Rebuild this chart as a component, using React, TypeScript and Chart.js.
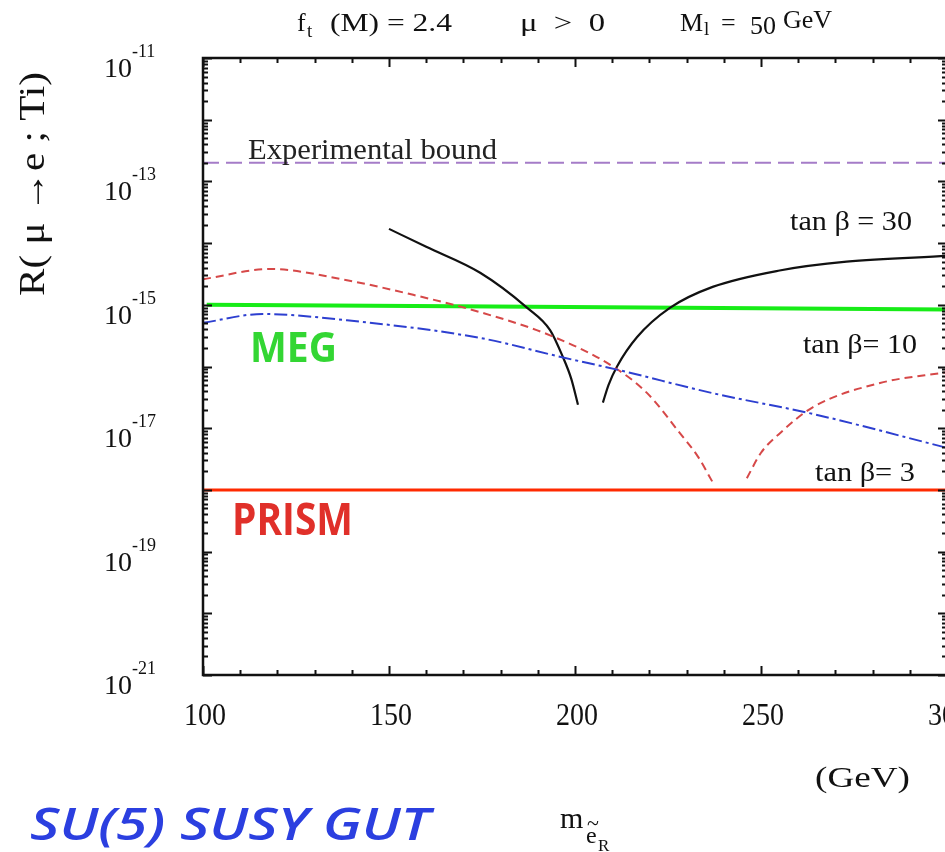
import React, { useEffect, useRef } from "react";
import { Chart, registerables } from "chart.js";

Chart.register(...registerables);

// ---- data ----
const xMin = 100;
const xMax = 300;
const yMin = 1e-21;
const yMax = 1e-11;

const xMajorTicks = [100, 150, 200, 250, 300];
const xTickLabels = ["100", "150", "200", "250", "300"];
const xMinorStep = 10;
const yDecadeExponents = [-21, -20, -19, -18, -17, -16, -15, -14, -13, -12, -11];
const yLabelExponents = [-11, -13, -15, -17, -19, -21];

// tan beta = 30 (black, two branches)
const tan30LeftX = [150, 160, 174.5, 187, 193.3, 196.8, 199, 200.8];
const tan30LeftY = [1.7e-14, 8.7e-15, 3.3e-15, 9.1e-16, 3.9e-16, 1.4e-16, 6.3e-17, 2.4e-17];
const tan30RightX = [207.5, 209, 211.3, 216.7, 225.5, 237, 255, 273, 300];
const tan30RightY = [2.6e-17, 5e-17, 1e-16, 3.0e-16, 8.9e-16, 1.95e-15, 3.6e-15, 5.0e-15, 6.2e-15];

// tan beta = 10 (red dashed, two branches)
const tan10LeftX = [100, 118, 138.7, 156.5, 174.5, 193.3, 210.2, 219.4, 228.2, 233, 237.1];
const tan10LeftY = [2.6e-15, 3.8e-15, 2.5e-15, 1.45e-15, 7.6e-16, 3.2e-16, 1e-16, 3.7e-17, 8.3e-18, 3.5e-18, 1.3e-18];
const tan10RightX = [246.2, 250, 255.1, 264, 282, 300];
const tan10RightY = [1.55e-18, 4e-18, 8.3e-18, 2.2e-17, 5.4e-17, 8.1e-17];

// tan beta = 3 (blue dash-dot)
const tan3X = [100, 116, 138.7, 174.5, 196.8, 212, 237, 264, 300];
const tan3Y = [5.1e-16, 7.1e-16, 5.6e-16, 2.9e-16, 1.4e-16, 8.7e-17, 3.7e-17, 1.7e-17, 4.8e-18];

// horizontal reference lines
const boundX = [100, 300];
const boundY = [2e-13, 2e-13];
const megX = [101, 300];
const megY = [1e-15, 8.4e-16];
const prismX = [100, 300];
const prismY = [1e-18, 1e-18];

const pts = (xs: number[], ys: number[]) => xs.map((x, i) => ({ x, y: ys[i] }));

const SERIF = '"Liberation Serif", "Times New Roman", serif';

function fitText(ctx: CanvasRenderingContext2D, text: string, x: number, y: number, font: string, width: number, color: string) {
  ctx.save();
  ctx.font = font;
  ctx.fillStyle = color;
  ctx.textAlign = "left";
  ctx.textBaseline = "alphabetic";
  const w = ctx.measureText(text).width;
  ctx.translate(x, y);
  ctx.scale(width / w, 1);
  ctx.fillText(text, 0, 0);
  ctx.restore();
}

function plainText(ctx: CanvasRenderingContext2D, text: string, x: number, y: number, font: string, color = "#111", align: CanvasTextAlign = "left") {
  ctx.font = font;
  ctx.fillStyle = color;
  ctx.textAlign = align;
  ctx.textBaseline = "alphabetic";
  ctx.fillText(text, x, y);
}

const decorPlugin = {
  id: "decor",
  afterDraw(chart: any) {
    const { ctx, chartArea: a, scales } = chart;
    const xs = scales.x;
    const ys = scales.y;
    ctx.save();
    ctx.strokeStyle = "#111";
    ctx.lineWidth = 2;
    // ticks on x (bottom and top, inward)
    for (let v = xMin; v <= xMax; v += xMinorStep) {
      const px = Math.round(xs.getPixelForValue(v)) + 0.5;
      const len = xMajorTicks.includes(v) ? 9 : 5;
      ctx.beginPath();
      ctx.moveTo(px, a.bottom);
      ctx.lineTo(px, a.bottom - len);
      ctx.moveTo(px, a.top);
      ctx.lineTo(px, a.top + len);
      ctx.stroke();
    }
    // ticks on y (left and right, inward)
    yDecadeExponents.forEach((e) => {
      const mults = e === -11 ? [1] : [1, 2, 3, 4, 5, 6, 7, 8, 9];
      mults.forEach((m) => {
        const v = m * Math.pow(10, e);
        const py = Math.round(ys.getPixelForValue(v)) + 0.5;
        const len = m === 1 ? 9 : 5;
        ctx.beginPath();
        ctx.moveTo(a.left, py);
        ctx.lineTo(a.left + len, py);
        ctx.moveTo(a.right, py);
        ctx.lineTo(a.right - len, py);
        ctx.stroke();
      });
    });
    // frame
    ctx.lineWidth = 2.5;
    ctx.strokeRect(a.left, a.top, a.right - a.left, a.bottom - a.top);

    // x tick labels
    xMajorTicks.forEach((v, i) => {
      const px = xs.getPixelForValue(v);
      fitText(ctx, xTickLabels[i], px + 2 - 21, 725, `31px ${SERIF}`, 42, "#111");
    });
    // y tick labels 10^n
    yLabelExponents.forEach((e) => {
      const py = ys.getPixelForValue(Math.pow(10, e));
      plainText(ctx, "10", 132, py + 19, `28px ${SERIF}`, "#111", "right");
      plainText(ctx, String(e), 132, py - 1, `18px ${SERIF}`, "#111", "left");
    });

    // title
    plainText(ctx, "f", 297, 31, `26px ${SERIF}`);
    plainText(ctx, "t", 307, 37, `19px ${SERIF}`);
    fitText(ctx, "(M) = 2.4", 330, 31, `26px ${SERIF}`, 122, "#111");
    fitText(ctx, "\u03bc  >  0", 520, 31, `26px ${SERIF}`, 85, "#111");
    plainText(ctx, "M", 680, 31, `26px ${SERIF}`);
    plainText(ctx, "l", 704, 35, `19px ${SERIF}`);
    plainText(ctx, "=", 721, 31, `26px ${SERIF}`);
    plainText(ctx, "50", 750, 34, `26px ${SERIF}`);
    plainText(ctx, "GeV", 783, 28, `26px ${SERIF}`);

    // y axis title (rotated)
    ctx.save();
    ctx.translate(44, 184);
    ctx.rotate(-Math.PI / 2);
    ctx.font = `36px ${SERIF}`;
    const yt = "R( \u03bc \u2192e ; Ti)";
    const yw = ctx.measureText(yt).width;
    ctx.scale(224 / yw, 1);
    ctx.fillStyle = "#111";
    ctx.textAlign = "center";
    ctx.fillText(yt, 0, 0);
    ctx.restore();

    // annotations in plot
    fitText(ctx, "Experimental bound", 248, 159, `29px ${SERIF}`, 249, "#222");
    fitText(ctx, "tan \u03b2 = 30", 790, 230, `28px ${SERIF}`, 122, "#111");
    fitText(ctx, "tan \u03b2= 10", 803, 353, `28px ${SERIF}`, 114, "#111");
    fitText(ctx, "tan \u03b2= 3", 815, 481, `28px ${SERIF}`, 100, "#111");
    fitText(ctx, "MEG", 250, 362, `bold 42px "Open Sans", sans-serif`, 87, "#33d633");
    fitText(ctx, "PRISM", 232, 535, `bold 44px "Open Sans", sans-serif`, 121, "#e0302a");

    // bottom texts
    fitText(ctx, "SU(5) SUSY GUT", 30, 840, `italic 600 46px "Open Sans", sans-serif`, 400, "#2b3fe0");
    fitText(ctx, "(GeV)", 815, 787, `30px ${SERIF}`, 95, "#111");
    plainText(ctx, "m", 560, 828, `30px ${SERIF}`);
    plainText(ctx, "e", 586, 843, `24px ${SERIF}`);
    plainText(ctx, "~", 587, 830, `22px ${SERIF}`);
    plainText(ctx, "R", 598, 851, `17px ${SERIF}`);
    ctx.restore();
  },
};

export default function App() {
  const ref = useRef<HTMLCanvasElement>(null);
  useEffect(() => {
    const canvas = ref.current!;
    const line = (data: any, color: string, width: number, dash: number[] = []) => ({
      data,
      borderColor: color,
      borderWidth: width,
      borderDash: dash,
      pointRadius: 0,
      fill: false,
      cubicInterpolationMode: "monotone" as const,
    });
    const chart = new Chart(canvas, {
      type: "line",
      data: {
        datasets: [
          line(pts(boundX, boundY), "#a57cc8", 2, [16, 7]),
          line(pts(tan3X, tan3Y), "#2d3fd0", 2, [13, 4, 3, 4]),
          line(pts(tan10LeftX, tan10LeftY), "#d64848", 2, [8, 5]),
          line(pts(tan10RightX, tan10RightY), "#d64848", 2, [8, 5]),
          line(pts(tan30LeftX, tan30LeftY), "#111111", 2.2),
          line(pts(tan30RightX, tan30RightY), "#111111", 2.2),
          line(pts(megX, megY), "#17ec17", 4),
          line(pts(prismX, prismY), "#ff2a00", 3),
        ],
      },
      options: {
        animation: false,
        responsive: false,
        devicePixelRatio: 1,
        layout: { padding: { left: 203, top: 58, right: 965 - 947, bottom: 852 - 675 } },
        plugins: { legend: { display: false }, tooltip: { enabled: false } },
        scales: {
          x: { type: "linear", min: xMin, max: xMax, display: false },
          y: { type: "logarithmic", min: yMin, max: yMax, display: false },
        },
      },
      plugins: [decorPlugin],
    });
    return () => chart.destroy();
  }, []);
  return (
    <div style={{ position: "fixed", left: 0, top: 0, width: 945, height: 852, overflow: "hidden", background: "#fff" }}>
      <canvas ref={ref} width={965} height={852} style={{ display: "block", width: 965, height: 852 }} />
    </div>
  );
}
